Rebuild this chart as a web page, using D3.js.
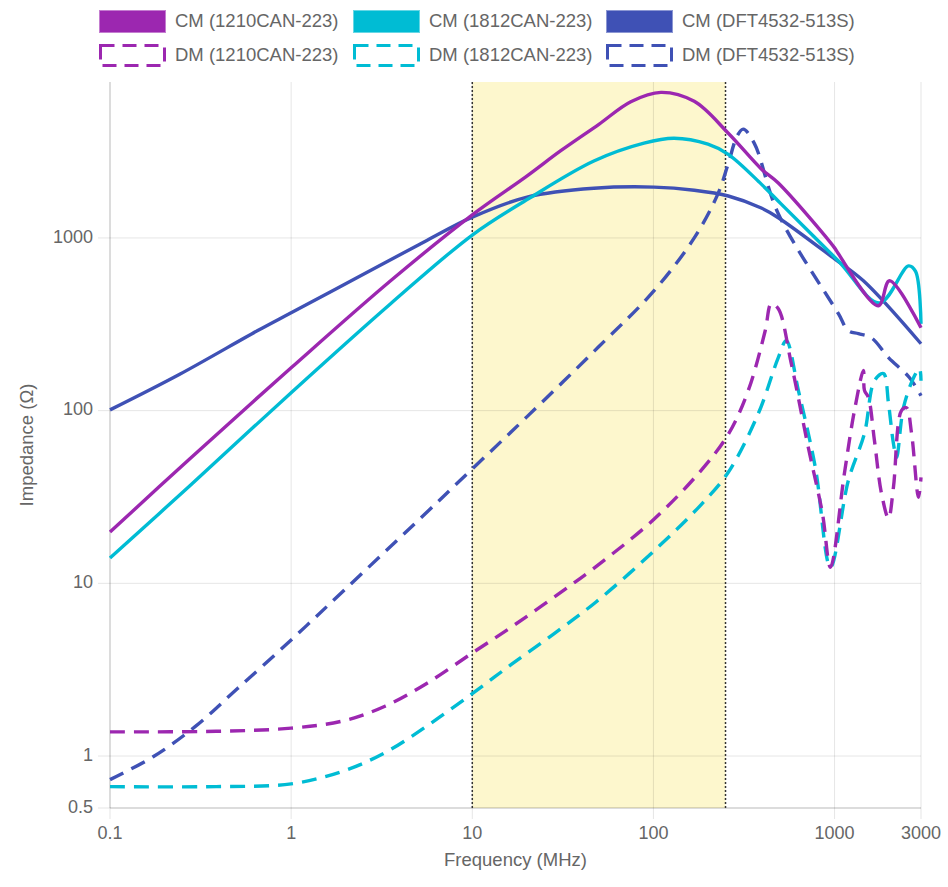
<!DOCTYPE html>
<html>
<head>
<meta charset="utf-8">
<script src="https://cdn.jsdelivr.net/npm/d3@7/dist/d3.min.js"></script>
<style>
  html, body { margin: 0; padding: 0; background: #fff; }
  svg { display: block; }
  text { font-family: "Helvetica Neue", Helvetica, Arial, "Liberation Sans", sans-serif; fill: #666; }
</style>
</head>
<body>
<svg id="chart" width="948" height="887"></svg>
<script>
// ---------------- DATA ----------------
const xTicks = [0.1, 1, 10, 100, 1000, 3000];
const xTickLabels = ["0.1", "1", "10", "100", "1000", "3000"];
const yTicks = [0.5, 1, 10, 100, 1000];
const yTickLabels = ["0.5", "1", "10", "100", "1000"];
const band = [10, 250];

const seriesNames = ["CM (1210CAN-223)", "CM (1812CAN-223)", "CM (DFT4532-513S)",
                     "DM (1210CAN-223)", "DM (1812CAN-223)", "DM (DFT4532-513S)"];

// CM 1210CAN-223
const cm1210F = [0.1, 0.277, 1, 3.54, 10, 20, 30.8, 50, 75, 110, 168, 259, 394, 489, 1000, 1050, 1746, 2010, 3000];
const cm1210Z = [19.8, 52.9, 177, 565, 1360, 2280, 3200, 4550, 6150, 6970, 6180, 4040, 2510, 2080, 876, 809, 405, 565, 302];

// CM 1812CAN-223
const cm1812F = [0.1, 0.277, 1, 3.54, 10, 20.3, 46.9, 88.7, 130, 200, 259, 394, 508, 1050, 1770, 2559, 2800, 3000];
const cm1812Z = [14.0, 36.9, 127, 416, 1040, 1680, 2790, 3540, 3780, 3490, 3050, 2050, 1570, 736, 421, 689, 640, 318];

// CM DFT4532-513S
const cmDftF = [0.1, 0.244, 0.65, 1, 2.32, 5.38, 10, 20.3, 46.9, 100.7, 168, 259, 394, 489, 1000, 1443, 3000];
const cmDftZ = [101, 163, 290, 369, 590, 945, 1320, 1730, 1940, 1970, 1890, 1750, 1490, 1310, 757, 565, 244];

// DM 1210CAN-223
const dm1210F = [0.1, 0.385, 1, 1.95, 3.32, 5.66, 10, 16.5, 28.2, 48.2, 100.7, 183, 259, 334, 414, 447, 489, 577, 716, 857, 949,
                 1133, 1287, 1443, 1462, 1538, 1660, 1815, 1985, 2113, 2340, 2494, 2661, 2904, 3000];
const dm1210Z = [1.38, 1.39, 1.45, 1.60, 1.95, 2.65, 3.95, 5.6, 8.3, 12.5, 23.5, 45, 73, 131, 290, 416, 389, 187, 61.2, 25.4, 12.4,
                 43.3, 100, 171, 131, 119, 67.1, 33.2, 23.8, 35.9, 100, 104, 73.8, 31.5, 41.1];

// DM 1812CAN-223
const dm1812F = [0.1, 0.385, 1, 1.95, 3.32, 5.66, 10, 16.5, 28.2, 48.2, 100.7, 183, 259, 379, 489, 541, 631, 783, 949,
                 1192, 1462, 1660, 1862, 1985, 2113, 2197, 2400, 2729, 2942, 3000];
const dm1812Z = [0.665, 0.665, 0.69, 0.82, 1.05, 1.5, 2.3, 3.4, 5.1, 7.8, 15.4, 28.5, 44, 96, 203, 254, 131, 46.9, 12.4,
                 39.5, 73.8, 149, 164, 110, 64.5, 53.6, 104, 155, 175, 149];

// DM DFT4532-513S
const dmDftF = [0.1, 0.173, 0.295, 0.504, 1, 2, 5, 10, 20, 50, 100, 168, 227, 259, 290, 313, 360, 489,
                1050, 1192, 1355, 1599, 1985, 2594, 3000];
const dmDftZ = [0.73, 0.99, 1.48, 2.45, 4.7, 9.3, 23, 46, 92, 235, 490, 1000, 1800, 2700, 3900, 4270, 3540, 1380,
                364, 290, 279, 264, 203, 155, 122];

// ---------------- STYLE ----------------
const colors = ["#9c27b0", "#00bcd4", "#3f51b5", "#9c27b0", "#00bcd4", "#3f51b5"];
const dashed = [false, false, false, true, true, true];
const freqs = [cm1210F, cm1812F, cmDftF, dm1210F, dm1812F, dmDftF];
const vals = [cm1210Z, cm1812Z, cmDftZ, dm1210Z, dm1812Z, dmDftZ];

const W = 948, H = 887;
const margin = { left: 110, right: 27, top: 82, bottom: 79 };
const svg = d3.select("#chart");

const x = d3.scaleLog().domain([0.1, 3000]).range([margin.left, W - margin.right]);
const y = d3.scaleLog().domain([0.5, 8000]).range([H - margin.bottom, margin.top]);
const x0 = x.range()[0], x1 = x.range()[1], y0 = y.range()[0], y1 = y.range()[1];

// band
svg.append("rect")
  .attr("x", x(band[0])).attr("y", y1)
  .attr("width", x(band[1]) - x(band[0])).attr("height", y0 - y1)
  .attr("fill", "#fdf7cd");

// grid
const gridColor = "rgba(0,0,0,0.1)";
svg.append("g").selectAll("line").data(xTicks).join("line")
  .attr("x1", d => x(d)).attr("x2", d => x(d))
  .attr("y1", y1).attr("y2", y0 + 11)
  .attr("stroke", gridColor).attr("stroke-width", 1);
svg.append("g").selectAll("line").data(yTicks).join("line")
  .attr("x1", x0 - 12).attr("x2", x1)
  .attr("y1", d => y(d)).attr("y2", d => y(d))
  .attr("stroke", gridColor).attr("stroke-width", 1);
// axis borders
svg.append("line").attr("x1", x0).attr("x2", x0).attr("y1", y1).attr("y2", y0)
  .attr("stroke", "rgba(0,0,0,0.18)").attr("stroke-width", 1);
svg.append("line").attr("x1", x0).attr("x2", x1).attr("y1", y0).attr("y2", y0)
  .attr("stroke", "rgba(0,0,0,0.18)").attr("stroke-width", 1);

// band borders (dotted)
svg.append("g").selectAll("line").data(band).join("line")
  .attr("x1", d => x(d)).attr("x2", d => x(d))
  .attr("y1", y1).attr("y2", y0)
  .attr("stroke", "#333").attr("stroke-width", 1.5)
  .attr("stroke-dasharray", "2,2");

// tick labels
svg.append("g").selectAll("text").data(xTicks).join("text")
  .attr("x", d => x(d)).attr("y", y0 + 26)
  .attr("text-anchor", "middle").attr("dominant-baseline", "middle")
  .attr("font-size", 18)
  .text((d, i) => xTickLabels[i]);
svg.append("g").selectAll("text").data(yTicks).join("text")
  .attr("x", x0 - 17).attr("y", d => y(d))
  .attr("text-anchor", "end").attr("dominant-baseline", "middle")
  .attr("font-size", 18)
  .text((d, i) => yTickLabels[i]);

// axis titles
svg.append("text")
  .attr("x", (x0 + x1) / 2).attr("y", 861)
  .attr("text-anchor", "middle").attr("dominant-baseline", "middle")
  .attr("font-size", 18.5)
  .text("Frequency (MHz)");
svg.append("text")
  .attr("transform", `translate(28,${(y0 + y1) / 2}) rotate(-90)`)
  .attr("text-anchor", "middle").attr("dominant-baseline", "middle")
  .attr("font-size", 18.5)
  .text("Impedance (Ω)");

// lines
const line = d3.line().x(d => x(d[0])).y(d => y(d[1])).curve(d3.curveCatmullRom.alpha(0.5));
const plotG = svg.append("g");
for (let i = seriesNames.length - 1; i >= 0; i--) {
  const pts = freqs[i].map((f, k) => [f, vals[i][k]]);
  plotG.append("path")
    .attr("d", line(pts))
    .attr("fill", "none")
    .attr("stroke", colors[i])
    .attr("stroke-width", 3.4)
    .attr("stroke-linejoin", "round")
    .attr("stroke-dasharray", dashed[i] ? "15,9" : null);
}

// legend
const legendX = [99, 353, 606];
const legendY = [10, 44];
const boxW = 67, boxH = 23;
const lg = svg.append("g");
seriesNames.forEach((name, i) => {
  const col = i % 3, row = Math.floor(i / 3);
  const bx = legendX[col], by = legendY[row];
  if (dashed[i]) {
    lg.append("rect").attr("x", bx + 1.5).attr("y", by + 1.5)
      .attr("width", boxW - 3).attr("height", boxH - 3)
      .attr("fill", "#fff").attr("stroke", colors[i]).attr("stroke-width", 3)
      .attr("stroke-dasharray", "14,8");
  } else {
    lg.append("rect").attr("x", bx + 1).attr("y", by + 1)
      .attr("width", boxW - 2).attr("height", boxH - 2)
      .attr("fill", colors[i]).attr("stroke", colors[i]).attr("stroke-opacity", 0.6).attr("stroke-width", 2);
  }
  lg.append("text")
    .attr("x", bx + boxW + 9).attr("y", by + boxH / 2 + 1)
    .attr("dominant-baseline", "middle")
    .attr("font-size", 18.5)
    .text(name);
});
</script>
</body>
</html>
